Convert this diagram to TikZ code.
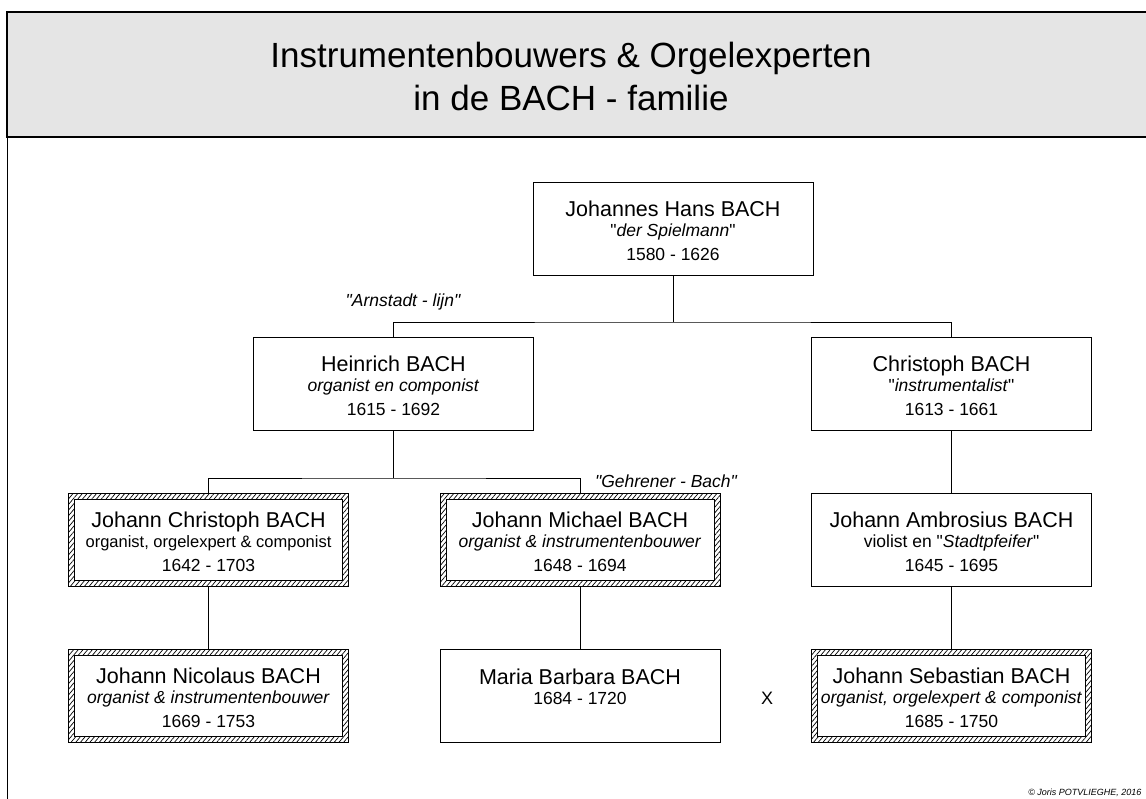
\documentclass[tikz,border=0pt]{standalone}
\usepackage{fontspec}
\setmainfont{Liberation Sans}[Ligatures=TeXOff]
\usetikzlibrary{patterns.meta}
\definecolor{headerfill}{gray}{0.9}
\newcommand\namefont{\fontsize{21.5}{24}\selectfont}
\newcommand\rolefont{\fontsize{17.5}{20}\selectfont}
\newcommand\person[3]{\rule{0pt}{21pt}{\namefont #1}\\#2\\[4pt]#3}
\tikzset{
	person/.style={draw,fill=white,line width=.8pt,minimum width=280pt,minimum height=93pt,inner sep=0pt,align=center,font=\rolefont},
	hatched/.style={person,pattern={Lines[angle=50,distance=3.6pt,line width=.7pt]},
		path picture={\draw[fill=white] ([shift={(6pt,6pt)}]path picture bounding box.south west) rectangle ([shift={(-6pt,-6pt)}]path picture bounding box.north east);}},
	branch/.style={anchor=base,font=\rolefont\itshape}
}
\begin{document}
\begin{tikzpicture}[x=1pt,y=-1pt]
	\useasboundingbox (0,0) rectangle (1146,799);
	\draw[line width=1.5pt,fill=headerfill] (7,12) rectangle (1160,137);
	\draw[line width=.8pt] (7,137) -- (7,810);
	\node[align=center,font=\fontsize{35}{43}\selectfont] (title) at (571,76.7) {Instrumentenbouwers \& Orgelexperten\\in de BACH - familie};
	\path
	(673,322) coordinate (F1)
	(393.5,478) coordinate (F2);
	\node[person] (johannes) at (673,228.5) {\person{Johannes Hans BACH}{"\textit{der Spielmann}"}{1580 - 1626}};
	\node[person] (heinrich) at (393.5,383.5) {\person{Heinrich BACH}{\textit{organist en componist}}{1615 - 1692}};
	\node[person] (christoph) at (951.5,383.5) {\person{Christoph BACH}{"\textit{instrumentalist}"}{1613 - 1661}};
	\node[hatched] (jchristoph) at (208.5,539.5) {\person{Johann Christoph BACH}{\fontsize{16.5}{20}\selectfont organist, orgelexpert \& componist}{1642 - 1703}};
	\node[hatched] (jmichael) at (580,539.5) {\person{Johann Michael BACH}{\textit{organist \& instrumentenbouwer}}{1648 - 1694}};
	\node[person] (ambrosius) at (951.5,539.5) {\person{Johann Ambrosius BACH}{violist en "\textit{Stadtpfeifer}"}{1645 - 1695}};
	\node[hatched] (nicolaus) at (208.5,695.5) {\person{Johann Nicolaus BACH}{\textit{organist \& instrumentenbouwer}}{1669 - 1753}};
	\node[person] (barbara) at (580,695.5) {\person{Maria Barbara BACH}{1684 - 1720}{\rule{0pt}{1pt}}};
	\node[hatched] (sebastian) at (951.5,695.5) {\person{Johann Sebastian BACH}{\textit{organist, orgelexpert \& componist}}{1685 - 1750}};
	\draw[line width=.8pt] (johannes) -- (F1) (heinrich.north) |- (F1) -| (christoph.north);
	\draw[line width=.8pt] (heinrich) -- (F2) (jchristoph.north) |- (F2) -| (jmichael.north);
	\foreach \a/\b in {christoph/ambrosius,jchristoph/nicolaus,jmichael/barbara,ambrosius/sebastian} \draw[line width=.8pt] (\a.south) -- (\b.north);
	\node[branch] (arnstadt) at (403,307) {"Arnstadt - lijn"};
	\node[branch] (gehrener) at (666,487) {"Gehrener - Bach"};
	\node[anchor=base,font=\fontsize{18}{20}\selectfont] (huwelijk) at (767,704) {X};
	\node[anchor=base east,font=\fontsize{9}{10}\selectfont\itshape] (copyright) at (1145,795) {© Joris POTVLIEGHE, 2016};
\end{tikzpicture}
\end{document}
